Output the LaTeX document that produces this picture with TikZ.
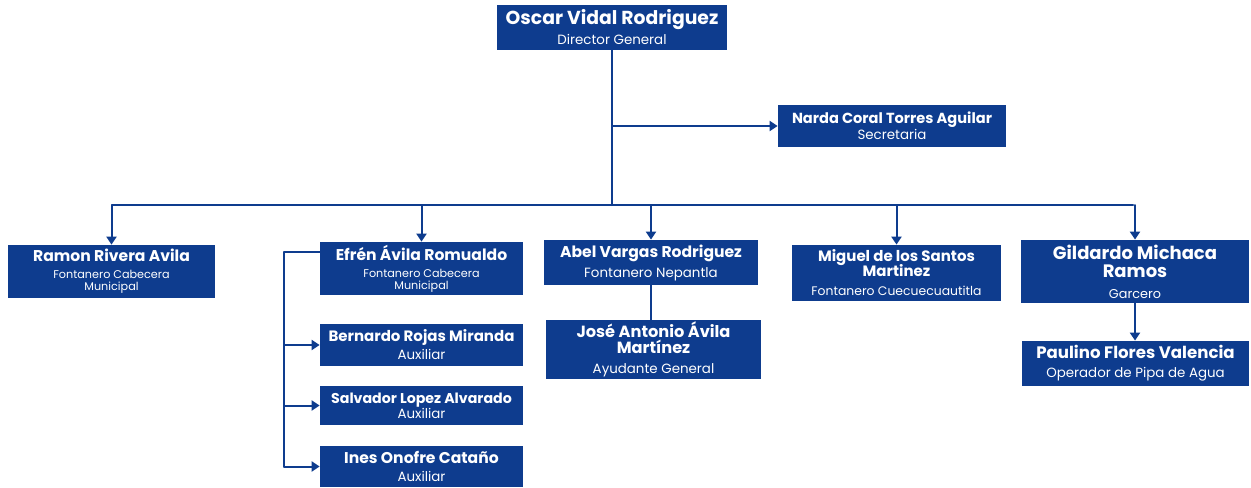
\documentclass[tikz,border=0pt]{standalone}
\usepackage{fontspec}
\setmainfont{Poppins}
\usetikzlibrary{arrows.meta}
\definecolor{orgblue}{RGB}{14,60,142}
\newcommand{\boxfont}{\fontsize{6pt}{0pt}\selectfont\lineskiplimit=-100pt\relax}
\newcommand{\nm}[2][7.8]{{\fontsize{#1pt}{0pt}\selectfont\bfseries #2}}
\newcommand{\rl}[2][6.7]{{\fontsize{#1pt}{0pt}\selectfont #2}}

\begin{document}
\begin{tikzpicture}[line cap=round,line join=round,>={Triangle[width=5pt,length=4pt]},x=0.5pt,y=-0.5pt,
		box/.style={fill=orgblue,text=white,align=center,inner sep=0pt,font=\boxfont},
		link/.style={draw=orgblue,line width=1pt}]
	\useasboundingbox (0,0) rectangle (1251,487);
		% top
		\node[box,minimum width=115pt,minimum height=22.5pt] (dir) at (612,27.5) {\nm[9.4]{Oscar Vidal Rodriguez}\\[10pt]\rl{Director General}};
		\node[box,minimum width=114pt,minimum height=21pt] (narda) at (892,126) {\nm[7.3]{Narda Coral Torres Aguilar}\\[8pt]\rl{Secretaria}};
		% second row
		\node[box,minimum width=103.5pt,minimum height=26.5pt] (ramon) at (111.5,271.5) {\nm{Ramon Rivera Avila}\\[8.5pt]\rl[5.6]{Fontanero Cabecera}\\[6pt]\rl[5.6]{Municipal}};
		\node[box,minimum width=101.5pt,minimum height=26.5pt] (efren) at (421.5,268.5) {\nm{Efrén Ávila Romualdo}\\[8.5pt]\rl[5.6]{Fontanero Cabecera}\\[6pt]\rl[5.6]{Municipal}};
		\node[box,minimum width=107pt,minimum height=22.5pt] (abel) at (651,262.5) {\nm{Abel Vargas Rodriguez}\\[10pt]\rl{Fontanero Nepantla}};
		\node[box,minimum width=104.5pt,minimum height=28pt] (miguel) at (896.5,273) {\nm[7.5]{Miguel de los Santos}\\[7.5pt]\nm[7.5]{Martinez}\\[9.5pt]\rl[6.2]{Fontanero Cuecuecuautitla}};
		\node[box,minimum width=114pt,minimum height=31.5pt] (gildardo) at (1135,271.5) {\nm[9]{Gildardo Michaca}\\[9pt]\nm[9]{Ramos}\\[10.5pt]\rl[6.4]{Garcero}};
		% third row
		\node[box,minimum width=107.5pt,minimum height=29.5pt] (jose) at (653.5,349.5) {\nm[8.1]{José Antonio Ávila}\\[8pt]\nm[8.1]{Martínez}\\[10pt]\rl{Ayudante General}};
		\node[box,minimum width=113.5pt,minimum height=22.5pt] (paulino) at (1135.5,363.5) {\nm[8.3]{Paulino Flores Valencia}\\[9.5pt]\rl{Operador de Pipa de Agua}};
		\node[box,minimum width=101.5pt,minimum height=21pt] (bernardo) at (421.5,345) {\nm[7.5]{Bernardo Rojas Miranda}\\[9pt]\rl{Auxiliar}};
		\node[box,minimum width=101.5pt,minimum height=19.5pt] (salvador) at (421.5,405.5) {\nm[7.1]{Salvador Lopez Alvarado}\\[7.5pt]\rl{Auxiliar}};
		\node[box,minimum width=101.5pt,minimum height=20.5pt] (ines) at (421.5,466.5) {\nm{Ines Onofre Cataño}\\[9pt]\rl{Auxiliar}};
		% connectors
		\coordinate (barL) at (112,205);
		\coordinate (barR) at (1133,205);
		\coordinate (spine) at (284,252);
		\draw[link] (dir.south) -- (dir.south |- barL);
		\draw[link,->] (dir.south |- narda.west) -- (narda.west);
		\draw[link] (barL) -- (barR);
		\foreach \n in {ramon,efren,abel,miguel,gildardo}
			\draw[link,->] (barL -| \n.north) -- (\n.north);
		\draw[link] (abel.south) -- (abel.south |- jose.north);
		\draw[link,->] (gildardo.south) -- (gildardo.south |- paulino.north);
		\draw[link] (efren.west |- spine) -- (spine) -- (spine |- ines.west);
		\foreach \n in {bernardo,salvador,ines}
			\draw[link,->] (spine |- \n.west) -- (\n.west);
\end{tikzpicture}
\end{document}
